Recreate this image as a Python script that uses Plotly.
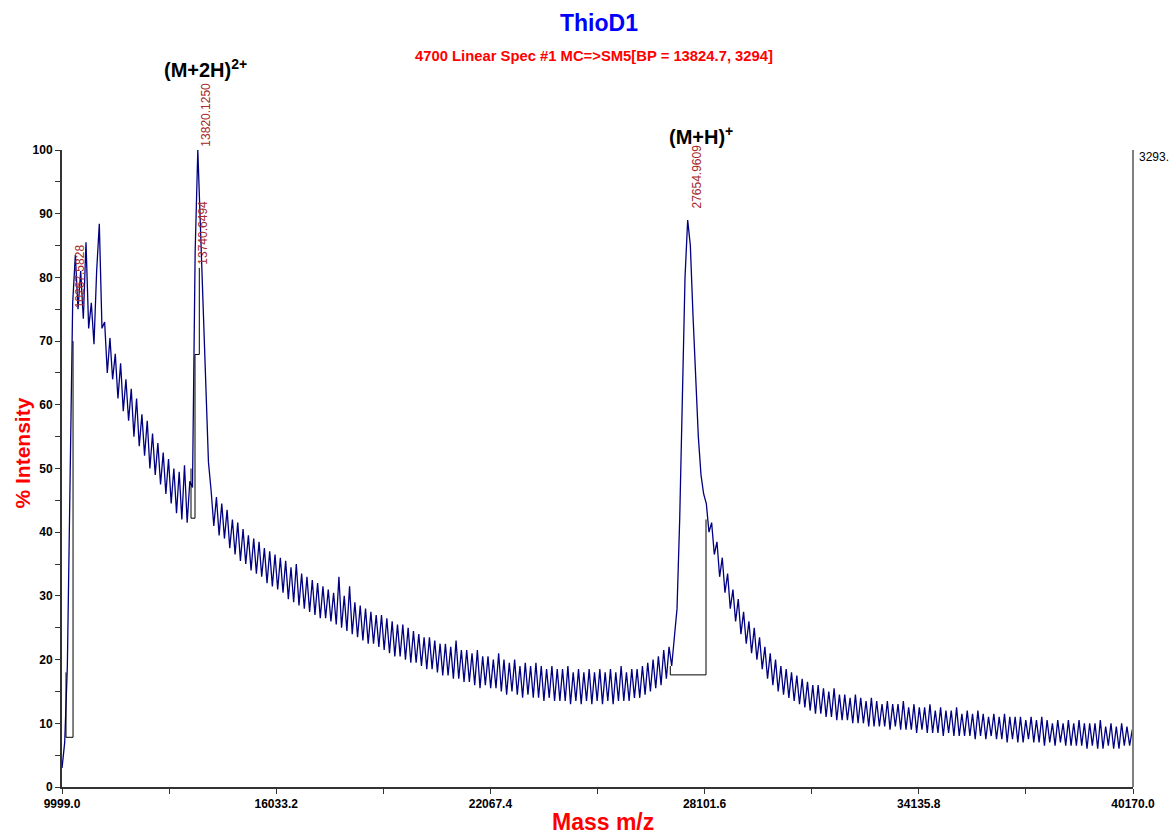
import plotly.graph_objects as go

# ---------------- data ----------------
mass_start = 10000.0
mass_step = 75.0
intensity = [
    3, 7, 19, 50, 76, 83.5, 75, 81, 73.5, 85.5, 72, 76, 69.5, 81, 88.4, 72, 73, 65, 70.5, 64,
    68, 61, 66.5, 59, 64, 57.5, 62.5, 55, 61, 53.5, 58.5, 52, 57.5, 50, 55.5, 49, 54, 47.5, 52.5, 46,
    51.5, 44.5, 50, 43, 49.5, 42, 50.5, 41.5, 48, 47, 84, 100, 87, 75, 61, 51, 46.5, 41, 45.5, 39.5,
    44.5, 39, 43.5, 37.5, 42, 36.5, 41.5, 35.5, 40.5, 35, 39.5, 34, 39, 33.5, 38.5, 33, 37.5, 32, 37, 31.5,
    36.5, 31, 36, 30.5, 35.5, 29.5, 34.5, 29, 35, 28.5, 33.5, 28, 33, 27.5, 32.5, 27, 32, 26.5, 31.5, 26.5,
    31, 26, 30.5, 25.5, 33, 25, 30, 24.5, 31.5, 24, 29, 23.5, 28.5, 23, 28, 22.5, 27.5, 22.5, 27, 22,
    27, 21.5, 26.5, 21, 26, 20.5, 25.5, 20.5, 25.5, 20, 25, 19.5, 24.5, 19.5, 24, 19, 23.5, 18.5, 23.5, 18.5,
    23, 18, 22.5, 17.5, 22.5, 17.5, 22, 17, 23, 17, 21.5, 16.5, 21.5, 16.5, 21, 16, 21.5, 15.5, 20.5, 16,
    20.5, 15.5, 20, 15.5, 21, 15, 20, 14.5, 19.5, 15, 20, 14.5, 19, 14, 19.5, 14.5, 19, 14, 19.5, 14,
    19, 13.5, 18.5, 14, 19, 13.5, 18.5, 13.5, 18.5, 13.5, 19, 13, 18, 13.5, 18.5, 13, 18, 13.5, 18.5, 13,
    18, 13.5, 18.5, 13, 18, 13.5, 18.5, 13, 18, 13.5, 19, 13.5, 18, 13.5, 18.5, 14, 18.5, 14, 19, 14.5,
    19.5, 15, 20, 15.5, 20.5, 16, 21.5, 17, 22, 19, 23.5, 28, 42, 63, 80, 89, 85, 74, 63, 55,
    49, 46, 44.5, 40, 41.5, 36.5, 38.5, 33, 36, 30.5, 33.5, 28, 31, 26, 29.5, 24, 27.5, 22.5, 26, 21,
    25, 20, 23.5, 18.5, 22, 17, 21, 16, 20, 15, 19, 14.5, 18.5, 14, 18, 13.5, 17.5, 13, 17, 12.5,
    16.5, 12, 16, 11.5, 16, 11.5, 15.5, 11, 15, 11, 15.5, 10.5, 14.5, 10.5, 14.5, 10.5, 14, 10, 14.5, 10,
    14, 10, 13.5, 9.5, 14, 9.5, 13.5, 9.5, 13, 9.5, 13.5, 9, 13, 9.5, 13, 9, 13.5, 9, 12.5, 9,
    13, 8.5, 12.5, 9, 12.5, 8.5, 13, 8.5, 12, 8.5, 12.5, 8, 12, 8.5, 12, 8, 12.5, 8, 11.5, 8,
    12, 8, 11.5, 7.5, 12, 8, 11.5, 7.5, 11, 8, 11.5, 7.5, 11, 7.5, 11.5, 7, 11, 7.5, 11, 7,
    11, 7, 10.5, 7.5, 11, 7, 10.5, 7, 11, 6.5, 10.5, 7, 10, 6.5, 10.5, 7, 10, 6.5, 10.5, 6.5,
    10, 6.5, 10.5, 6.5, 10, 6, 10, 6.5, 10, 6, 10.5, 6, 9.5, 6.5, 10, 6, 9.5, 6, 10, 6.5,
    9.5, 6.5, 9,
]
masses = [mass_start + mass_step * i for i in range(len(intensity))]

# peak-region markers (threshold boxes drawn by the instrument software)
region_mass = [10112, 10112, 10310, 10310, None,
               13633, 13633, 13746, 13746, 13867, 13867, None,
               27135, 27135, 28141, 28141]
region_level = [18, 7.8, 7.8, 70, None,
                50, 42.2, 42.2, 67.9, 67.9, 81.5, None,
                19, 17.6, 17.6, 42]

# labelled peaks
peak_mass = [10267.5828, 13740.6494, 13820.1250, 27654.9609]
peak_label_level = [74.6, 81.5, 100.0, 90.3]

# ion labels
ion_labels = ["(M+2H)<sup>2+</sup>", "(M+H)<sup>+</sup>"]
ion_mass = [14050, 28000]

x_ticks = [9999.0, 16033.2, 22067.4, 28101.6, 34135.8, 40170.0]
y_ticks = [0, 10, 20, 30, 40, 50, 60, 70, 80, 90, 100]
base_peak_abs = "3293."

# ---------------- figure ----------------
SANS = "Liberation Sans, Arial, sans-serif"
fig = go.Figure()
fig.add_trace(go.Scatter(x=masses, y=intensity, mode="lines",
                         line=dict(color="#000080", width=1.3), hoverinfo="skip",
                         showlegend=False))
fig.add_trace(go.Scatter(x=region_mass, y=region_level, mode="lines",
                         line=dict(color="#000000", width=1), hoverinfo="skip",
                         showlegend=False, connectgaps=False))

annotations = []
for m, lv in zip(peak_mass, peak_label_level):
    annotations.append(dict(x=m, y=lv, xref="x", yref="y", text=f"{m:.4f}",
                            textangle=-90, showarrow=False, xanchor="left", yanchor="bottom",
                            yshift=1, xshift=-1,
                            font=dict(family=SANS, size=12, color="#a52a2a")))
annotations.append(dict(x=ion_mass[0], y=1.1287, xref="x", yref="paper", text=ion_labels[0],
                        showarrow=False, xanchor="center", yanchor="middle",
                        font=dict(family=SANS, size=20, color="#000000", weight="bold")))
annotations.append(dict(x=ion_mass[1], y=1.0235, xref="x", yref="paper", text=ion_labels[1],
                        showarrow=False, xanchor="center", yanchor="middle",
                        font=dict(family=SANS, size=20, color="#000000", weight="bold")))
# titles
annotations.append(dict(x=0.501, y=1.2, xref="paper", yref="paper", text="ThioD1",
                        showarrow=False, xanchor="center", yanchor="middle",
                        font=dict(family=SANS, size=23, color="#0000ff", weight="bold")))
annotations.append(dict(x=0.497, y=1.147, xref="paper", yref="paper",
                        text="4700 Linear Spec #1 MC=&gt;SM5[BP = 13824.7, 3294]",
                        showarrow=False, xanchor="center", yanchor="middle",
                        font=dict(family=SANS, size=14.8, color="#ff0000", weight="bold")))
annotations.append(dict(x=1.0, y=1.0, xref="paper", yref="paper", text=base_peak_abs,
                        showarrow=False, xanchor="left", yanchor="middle", xshift=4, yshift=-7,
                        font=dict(family=SANS, size=12, color="#000000")))
# axis titles
annotations.append(dict(x=0.505, y=-0.0549, xref="paper", yref="paper", text="Mass m/z",
                        showarrow=False, xanchor="center", yanchor="middle",
                        font=dict(family=SANS, size=23, color="#ff0000", weight="bold")))
annotations.append(dict(x=-0.0373, y=0.5236, xref="paper", yref="paper", text="% Intensity",
                        textangle=-90, showarrow=False, xanchor="center", yanchor="middle",
                        font=dict(family=SANS, size=21, color="#ff0000", weight="bold")))

fig.update_layout(
    width=1172, height=836,
    margin=dict(l=62, r=39, t=150, b=49),
    paper_bgcolor="white", plot_bgcolor="white",
    annotations=annotations,
    shapes=[dict(type="line", xref="paper", yref="paper", x0=1, x1=1, y0=0, y1=1,
                 line=dict(color="#808080", width=2))],
    xaxis=dict(range=[9999.0, 40170.0], showgrid=False, zeroline=False, automargin=False,
               showline=True, linecolor="#333333", linewidth=2,
               ticks="outside", ticklen=5, tickcolor="#333333", tickwidth=1,
               tickmode="array", tickvals=x_ticks, ticktext=[f"{v:.1f}" for v in x_ticks],
               minor=dict(tickmode="linear", tick0=9999.0, dtick=3017.1, ticks="outside",
                          ticklen=5, tickcolor="#333333", showgrid=False),
               tickfont=dict(family=SANS, size=12, color="#000000", weight="bold")),
    yaxis=dict(range=[0, 100], showgrid=False, zeroline=False, automargin=False,
               showline=True, linecolor="#333333", linewidth=2,
               ticks="outside", ticklen=5, tickcolor="#333333", tickwidth=1,
               tickmode="array", tickvals=y_ticks,
               minor=dict(tickmode="linear", tick0=0, dtick=5, ticks="outside",
                          ticklen=5, tickcolor="#333333", showgrid=False),
               tickfont=dict(family=SANS, size=12, color="#000000", weight="bold")),
)

fig.write_html("out.html")
